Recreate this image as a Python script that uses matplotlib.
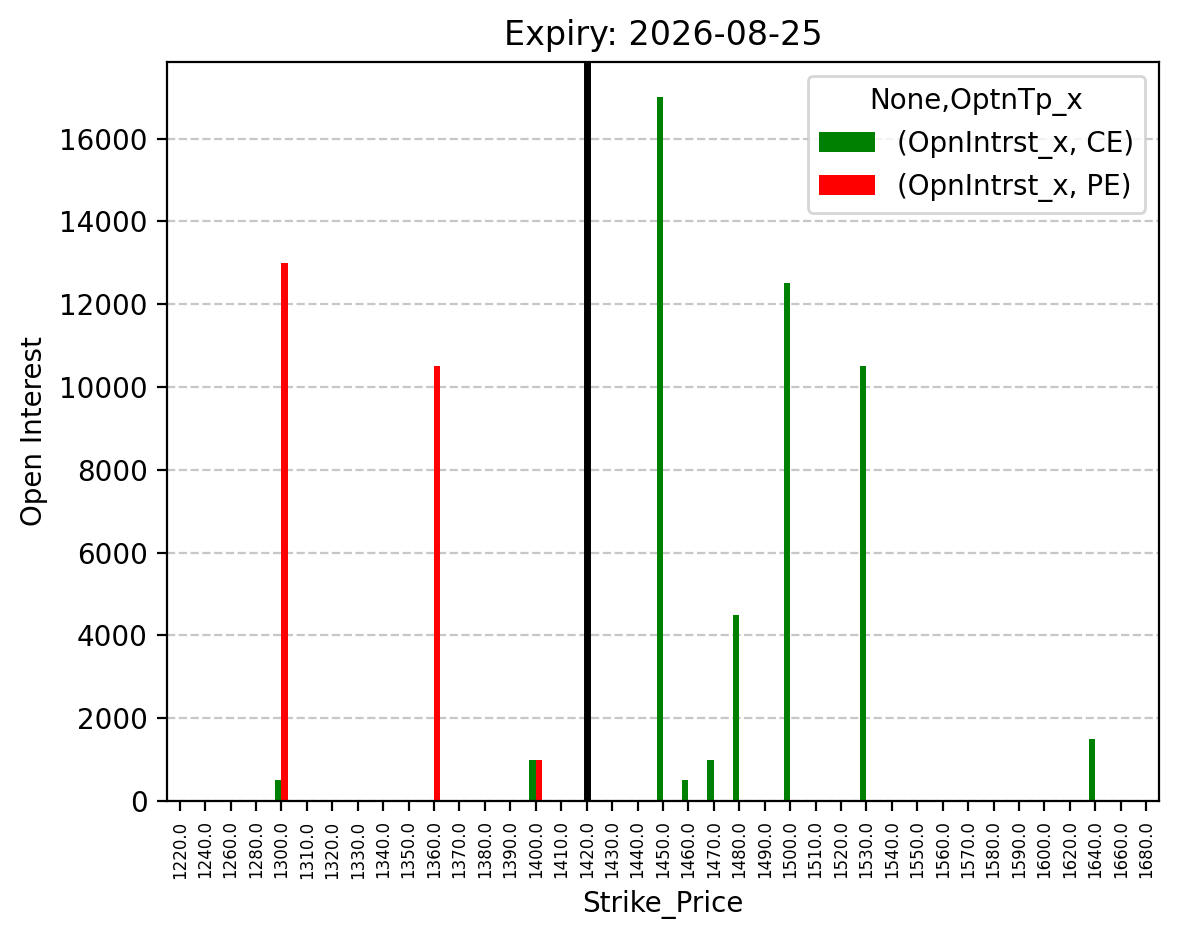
import matplotlib
matplotlib.use("Agg")
import matplotlib.pyplot as plt
import numpy as np

strikes = [1220, 1240, 1260, 1280, 1300, 1310, 1320, 1330, 1340, 1350, 1360, 1370,
           1380, 1390, 1400, 1410, 1420, 1430, 1440, 1450, 1460, 1470, 1480, 1490,
           1500, 1510, 1520, 1530, 1540, 1550, 1560, 1570, 1580, 1590, 1600, 1620,
           1640, 1660, 1680]
ce_points = {1300: 500, 1400: 1000, 1450: 17000, 1460: 500, 1470: 1000, 1480: 4500,
             1500: 12500, 1530: 10500, 1640: 1500}
pe_points = {1300: 13000, 1360: 10500, 1400: 1000}
spot_strike = 1420

ce = [ce_points.get(s, 0) for s in strikes]
pe = [pe_points.get(s, 0) for s in strikes]

fig = plt.figure(figsize=(5.895, 4.695), dpi=200)
ax = fig.add_axes([0.1416, 0.147, 0.8414, 0.787])
x = np.arange(len(strikes))
w = 0.25
ax.bar(x - w / 2, ce, width=w, color='green', label='(OpnIntrst_x, CE)')
ax.bar(x + w / 2, pe, width=w, color='red', label='(OpnIntrst_x, PE)')
ax.set_xlim(-0.5, len(strikes) - 0.5)
ax.set_xticks(x)
ax.set_xticklabels([f"{s:.1f}" for s in strikes], rotation=90, fontsize=6)
ax.axvline(strikes.index(spot_strike), color='black', linewidth=2.5)
ax.grid(axis='y', linestyle='--', alpha=0.7)
ax.set_axisbelow(True)
ax.set_xlabel('Strike_Price')
ax.set_ylabel('Open Interest')
ax.set_title('Expiry: 2026-08-25', fontsize=12)
ax.legend(title='None,OptnTp_x', loc='upper right')
fig.savefig('out.png', dpi=200)
